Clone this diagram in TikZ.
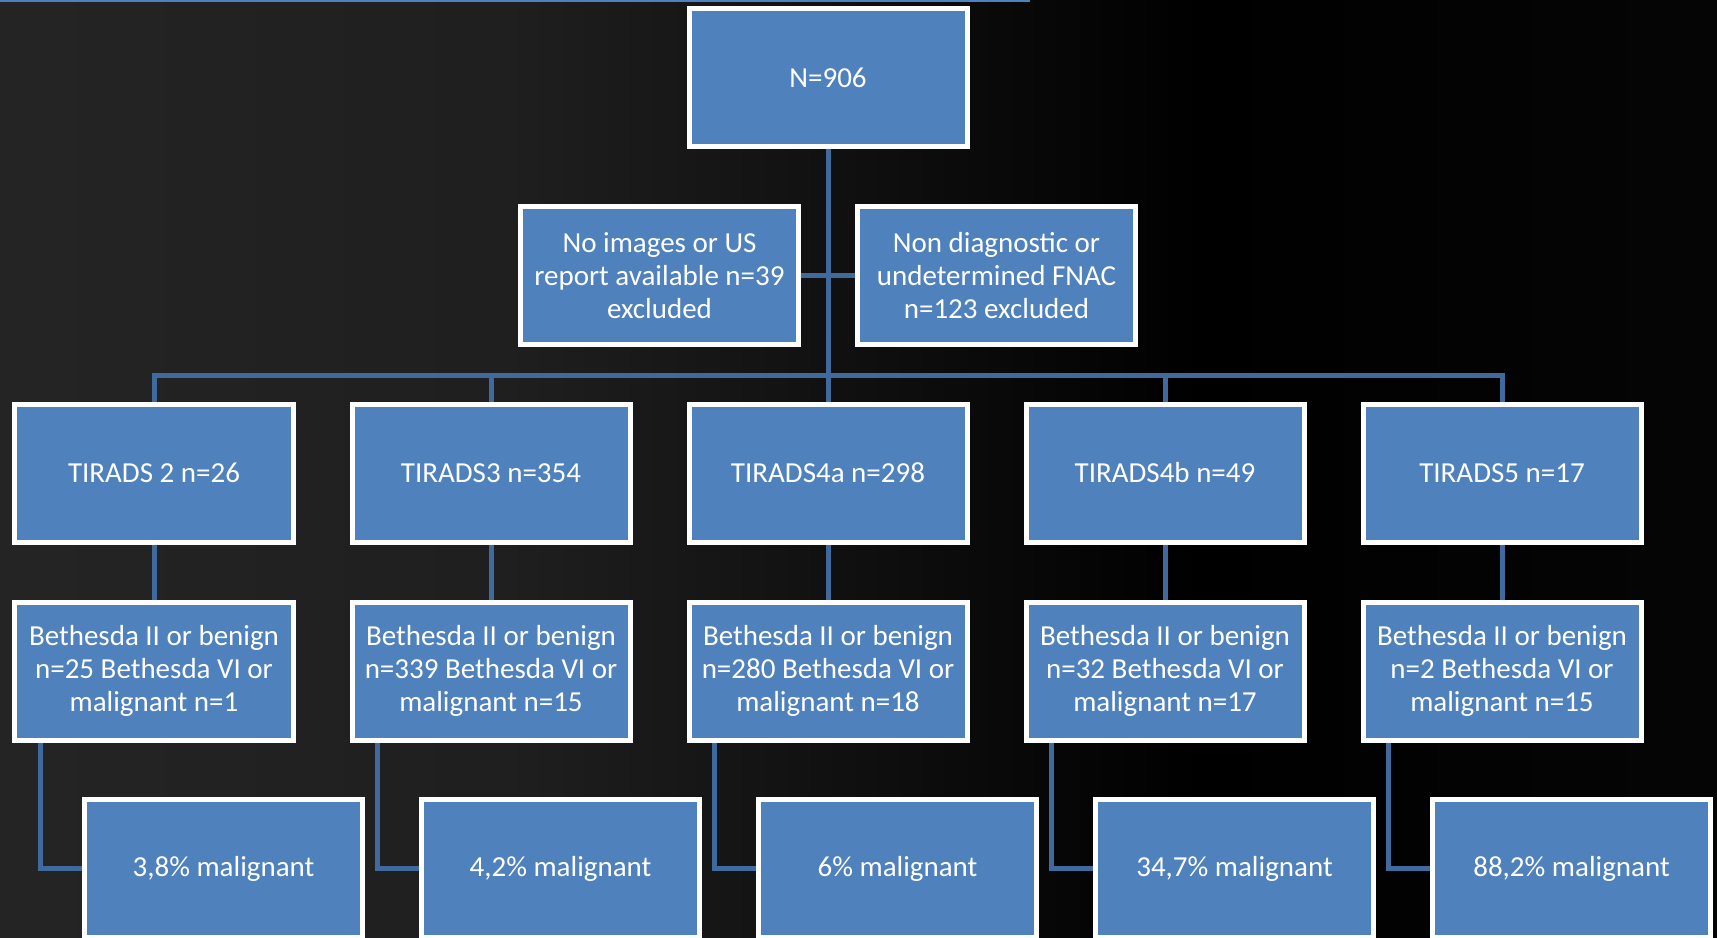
\documentclass[tikz,border=0pt]{standalone}
\usepackage{fontspec}
\setmainfont{Carlito}
\usepackage{tikz}
\usetikzlibrary{positioning,backgrounds,calc}
\definecolor{boxblue}{RGB}{79,129,189}
\definecolor{linkblue}{RGB}{64,106,158}
\pgfdeclarehorizontalshading{slide}{100bp}{color(0bp)=(black!82); color(40bp)=(black!88); color(60bp)=(black); color(88bp)=(black!96); color(100bp)=(black!85)}

\begin{document}
\begin{tikzpicture}[
    box/.style={rectangle, draw=white, line width=0.05cm, fill=boxblue, text=white,
                minimum width=2.78cm, minimum height=1.38cm, inner sep=0pt, align=center,
                font=\fontsize{8.25}{9.4}\selectfont},
    link/.style={draw=linkblue, line width=0.05cm},
]
    \useasboundingbox (0,0) rectangle (17.17,-9.37);
    \clip (0,0) rectangle (17.17,-9.37);

    % Top
    \node[box] (total) at (8.28,-0.775) {N=906};

    % Excluded
    \node[box] (noimg) at (6.595,-2.755) {No images or US\\report available n=39\\excluded};
    \node[box] (nondiag) at (9.965,-2.755) {Non diagnostic or\\undetermined FNAC\\n=123 excluded};

    % TIRADS
    \node[box] (t1) at (1.54,-4.73) {TIRADS 2 n=26};
    \node[box] (t2) at (4.91,-4.73) {TIRADS3 n=354};
    \node[box] (t3) at (8.28,-4.73) {TIRADS4a n=298};
    \node[box] (t4) at (11.65,-4.73) {TIRADS4b n=49};
    \node[box] (t5) at (15.02,-4.73) {TIRADS5 n=17};

    % Bethesda
    \node[box] (b1) at (1.54,-6.71) {Bethesda II or benign\\n=25 Bethesda VI or\\malignant n=1};
    \node[box] (b2) at (4.91,-6.71) {Bethesda II or benign\\n=339 Bethesda VI or\\malignant n=15};
    \node[box] (b3) at (8.28,-6.71) {Bethesda II or benign\\n=280 Bethesda VI or\\malignant n=18};
    \node[box] (b4) at (11.65,-6.71) {Bethesda II or benign\\n=32 Bethesda VI or\\malignant n=17};
    \node[box] (b5) at (15.02,-6.71) {Bethesda II or benign\\n=2 Bethesda VI or\\malignant n=15};

    % Malignancy rate
    \node[box] (m1) at (2.235,-8.685) {3,8\% malignant};
    \node[box] (m2) at (5.605,-8.685) {4,2\% malignant};
    \node[box] (m3) at (8.975,-8.685) {6\% malignant};
    \node[box] (m4) at (12.345,-8.685) {34,7\% malignant};
    \node[box] (m5) at (15.715,-8.685) {88,2\% malignant};

    \coordinate (bus) at (8.28,-3.75);

    \begin{scope}[on background layer]
        % Slide background
        \shade[shading=slide] (0,0) rectangle (17.17,-9.37);
        \draw[boxblue, line width=0.02cm] (0,-0.01) -- (10.3,-0.01);

        % Links
        \draw[link] (total.south) -- (t3.north);
        \draw[link] (noimg.east) -- (nondiag.west);
        \draw[link] (t1.north) |- (bus) -| (t5.north);
        \draw[link] (t2.north) -- (t2.north |- bus);
        \draw[link] (t4.north) -- (t4.north |- bus);
        \draw[link] (t1) -- (b1);
        \draw[link] (t2) -- (b2);
        \draw[link] (t3) -- (b3);
        \draw[link] (t4) -- (b4);
        \draw[link] (t5) -- (b5);
        \draw[link] ([xshift=0.28cm]b1.south west) |- (m1.west);
        \draw[link] ([xshift=0.28cm]b2.south west) |- (m2.west);
        \draw[link] ([xshift=0.28cm]b3.south west) |- (m3.west);
        \draw[link] ([xshift=0.28cm]b4.south west) |- (m4.west);
        \draw[link] ([xshift=0.28cm]b5.south west) |- (m5.west);
    \end{scope}
\end{tikzpicture}
\end{document}
